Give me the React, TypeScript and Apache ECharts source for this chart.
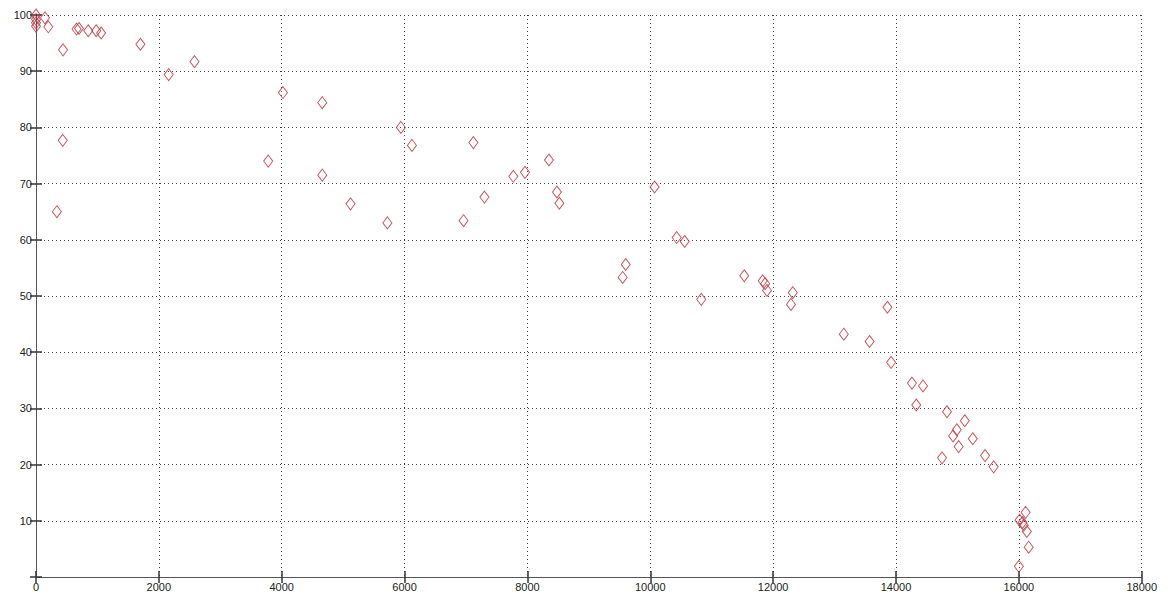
import React, { useEffect, useRef } from "react";
import * as echarts from "echarts";

const xValues: number[] = [
  0, 0, 0, 0, 146, 200, 440, 660, 700, 850, 980, 1060, 1700, 2160, 2580, 4020, 435, 3780, 340,
  4660, 5940, 6120, 7120, 4660, 5120, 5720, 6960, 7300, 7770, 7960, 8350, 8480, 8520, 10070,
  10430, 10560, 9600, 9550, 10830, 11530, 11830, 11870, 11900, 12320, 12290, 13860, 13150, 13570,
  13920, 14260, 14440, 14330, 14830, 15120, 14990, 14930, 15250, 15020, 14750, 15450, 15590,
  16110, 16010, 16060, 16080, 16130, 16160, 16000,
];
const yValues: number[] = [
  100, 99.2, 98.6, 98.0, 99.5, 97.9, 93.8, 97.5, 97.6, 97.2, 97.2, 96.8, 94.8, 89.4, 91.7, 86.2, 77.7, 74.0, 65.0,
  84.4, 80.0, 76.8, 77.3, 71.5, 66.4, 63.0, 63.4, 67.6, 71.3, 72.0, 74.2, 68.5, 66.5, 69.4,
  60.4, 59.7, 55.6, 53.3, 49.4, 53.6, 52.7, 52.2, 51.0, 50.6, 48.5, 48.0, 43.2, 41.9,
  38.2, 34.5, 34.0, 30.6, 29.4, 27.8, 26.2, 25.1, 24.6, 23.2, 21.2, 21.6, 19.6,
  11.5, 10.1, 9.7, 9.2, 8.1, 5.3, 1.9,
];

const xMin = 0, xMax = 18000, xStep = 2000;
const yMin = 0, yMax = 100, yStep = 10;

export default function App() {
  const ref = useRef<HTMLDivElement>(null);
  useEffect(() => {
    if (!ref.current) return;
    const chart = echarts.init(ref.current, undefined, { renderer: "svg" });
    const labelStyle = { color: "#222", fontFamily: "Liberation Sans, Arial, sans-serif", fontSize: 11 };
    const gridLine = { show: true, lineStyle: { color: "#444", type: [1, 3] as any, width: 1 } };
    const axisLine = { show: true, lineStyle: { color: "#555", width: 1 } };
    const tick = { show: true, inside: true, length: 6, lineStyle: { color: "#333", width: 1.5 } };
    chart.setOption({
      animation: false,
      backgroundColor: "#fff",
      grid: { left: 28, right: 14, top: 7, bottom: 12 },
      xAxis: [
        {
          type: "value", min: xMin, max: xMax, interval: xStep,
          axisLine, axisTick: tick, splitLine: gridLine,
          axisLabel: { ...labelStyle, margin: 4, formatter: (v: number) => String(v) },
        },
        {
          type: "value", position: "top", min: xMin, max: xMax, interval: xStep,
          axisLine, axisTick: tick, splitLine: { show: false }, axisLabel: { show: false },
        },
      ],
      yAxis: [
        {
          type: "value", min: yMin, max: yMax, interval: yStep,
          axisLine, axisTick: tick, splitLine: gridLine,
          axisLabel: { ...labelStyle, margin: 4, formatter: (v: number) => (v === 0 ? "" : String(v)) },
        },
        {
          type: "value", position: "right", min: yMin, max: yMax, interval: yStep,
          axisLine, axisTick: tick, splitLine: { show: false }, axisLabel: { show: false },
        },
      ],
      series: [
        {
          type: "scatter",
          symbol: "diamond",
          symbolSize: [9, 12],
          itemStyle: { color: "rgba(255,255,255,0)", borderColor: "#b8303a", borderWidth: 1 },
          data: xValues.map((x, i) => [x, yValues[i]]),
        },
      ],
    });
    return () => chart.dispose();
  }, []);
  return <div ref={ref} style={{ width: 1152, height: 584 }} />;
}
